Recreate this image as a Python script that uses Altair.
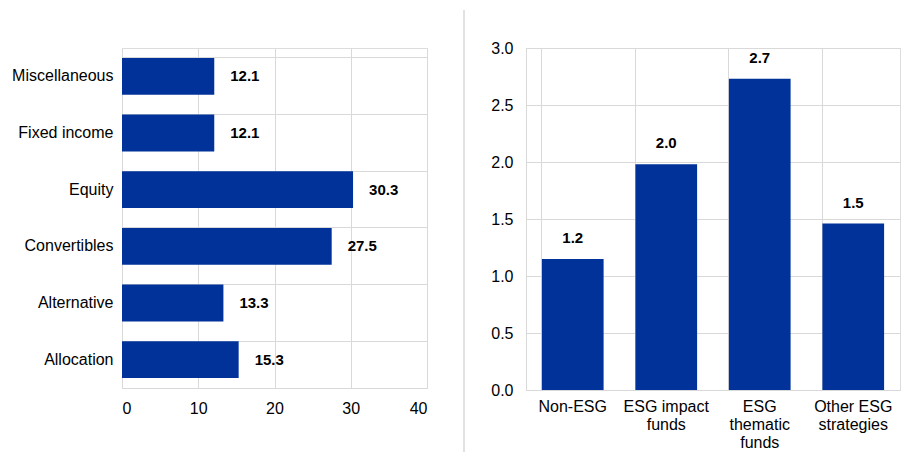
import altair as alt
import pandas as pd

# Left panel data
left_cats = ["Miscellaneous", "Fixed income", "Equity", "Convertibles", "Alternative", "Allocation"]
left_vals = [12.1, 12.1, 30.3, 27.5, 13.3, 15.3]
left_labels = ["12.1", "12.1", "30.3", "27.5", "13.3", "15.3"]

# Right panel data
right_cats = ["Non-ESG", "ESG impact|funds", "ESG|thematic|funds", "Other ESG|strategies"]
right_vals = [1.15, 1.98, 2.73, 1.46]
right_labels = ["1.2", "2.0", "2.7", "1.5"]

BLUE = "#003299"
GRID = "#d9d9d9"
FONT = "Liberation Sans"

ldf = pd.DataFrame({"cat": left_cats, "val": left_vals, "lab": left_labels})
rdf = pd.DataFrame({"cat": right_cats, "val": right_vals, "lab": right_labels})

ly = alt.Y("cat:N", sort=left_cats, scale=alt.Scale(paddingInner=0.35, paddingOuter=0.175),
           axis=alt.Axis(title=None, bandPosition=0, grid=True, gridColor=GRID, ticks=False,
                         domainColor=GRID, labelFontSize=16, labelColor="#000000",
                         labelPadding=9, minExtent=113, maxExtent=113, labelFont=FONT))
lx = alt.X("val:Q", scale=alt.Scale(domain=[0, 40]),
           axis=alt.Axis(title=None, values=[0, 10, 20, 30, 40], grid=True, gridColor=GRID,
                         ticks=False, domainColor=GRID, labelFontSize=16, labelColor="#000000",
                         labelPadding=12, labelFont=FONT))

left_bars = alt.Chart(ldf).mark_bar(color=BLUE).encode(x=lx, y=ly)
left_text = alt.Chart(ldf).mark_text(align="left", baseline="middle", dx=16, fontWeight="bold",
                                     fontSize=15, font=FONT, color="#000000").encode(
    x="val:Q", y=alt.Y("cat:N", sort=left_cats), text="lab:N")
left = (left_bars + left_text).properties(width=305, height=340)

rx = alt.X("cat:N", sort=right_cats, scale=alt.Scale(paddingInner=0.34, paddingOuter=0.17),
           axis=alt.Axis(title=None, bandPosition=0, grid=True, gridColor=GRID, ticks=False,
                         domainColor=GRID, labelFontSize=16, labelColor="#000000", labelAngle=0,
                         labelPadding=8, labelLineHeight=18, labelFont=FONT,
                         labelExpr="split(datum.label, '|')"))
ry = alt.Y("val:Q", scale=alt.Scale(domain=[0, 3]),
           axis=alt.Axis(title=None, values=[0, 0.5, 1, 1.5, 2, 2.5, 3], format=".1f", grid=True,
                         gridColor=GRID, ticks=False, domainColor=GRID, labelFontSize=16,
                         labelColor="#000000", labelPadding=13, minExtent=40, maxExtent=40,
                         labelFont=FONT))

right_bars = alt.Chart(rdf).mark_bar(color=BLUE).encode(x=rx, y=ry)
right_text = alt.Chart(rdf).mark_text(align="center", baseline="bottom", dy=-13, fontWeight="bold",
                                      fontSize=15, font=FONT, color="#000000").encode(
    x=alt.X("cat:N", sort=right_cats), y="val:Q", text="lab:N")
sep = alt.Chart(rdf).mark_rule(color=GRID, strokeWidth=1.5).encode(
    x=alt.value(-62), y=alt.value(-38), y2=alt.value(404))
right = (right_bars + right_text + sep.transform_filter("datum.cat == 'Non-ESG'")).properties(width=374, height=342)

chart = alt.hconcat(left, right, spacing=99, bounds="flush").properties(
    padding={"left": 0, "top": 0, "right": 0, "bottom": 0}
).configure_view(stroke=GRID).configure(background="#ffffff")

chart.save("out.html", embed_options={"renderer": "svg", "actions": False})
